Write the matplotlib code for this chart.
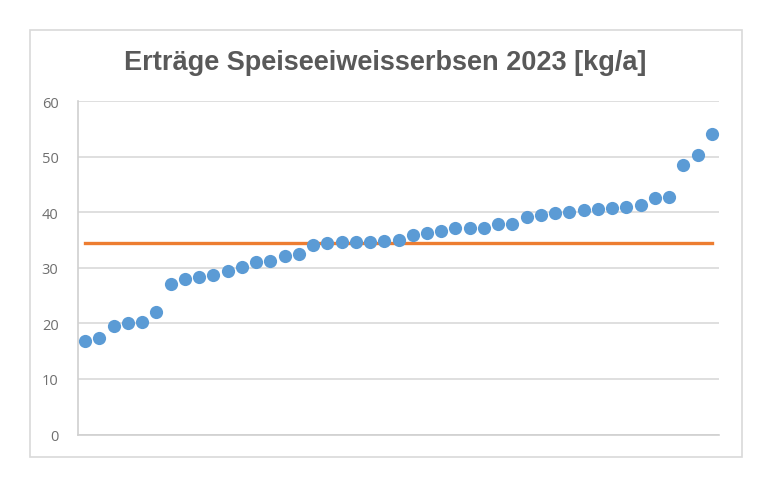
import matplotlib.pyplot as plt
from matplotlib.patches import Rectangle

# Werte (sortiert)
ertraege = [16.9, 17.4, 19.6, 20.1, 20.3, 22.0, 27.0, 27.9, 28.3, 28.7,
            29.5, 30.2, 31.0, 31.3, 32.1, 32.5, 34.1, 34.4, 34.6, 34.7,
            34.7, 34.9, 35.0, 35.9, 36.2, 36.6, 37.1, 37.2, 37.2, 37.8,
            37.8, 39.2, 39.5, 39.8, 40.0, 40.3, 40.5, 40.7, 40.9, 41.2,
            42.6, 42.7, 48.5, 50.3, 54.1]
mittel = [34.5] * len(ertraege)
betriebe = list(range(1, len(ertraege) + 1))
y_ticks = [0, 10, 20, 30, 40, 50, 60]
titel = 'Erträge Speiseeiweisserbsen 2023 [kg/a]'

W, H = 769, 489
fig = plt.figure(figsize=(W / 100, H / 100), dpi=100)

# Rahmen des Diagramms
fig.patches.append(Rectangle((30 / W, 1 - 458 / H), 712 / W, 427 / H,
                             transform=fig.transFigure, fill=False,
                             edgecolor='#d9d9d9', linewidth=1.2))

ax = fig.add_axes([78 / W, 1 - 435.5 / H, 641 / W, 333.5 / H])
ax.plot(betriebe, mittel, color='#ed7d31', linewidth=2.4, zorder=2)
ax.plot(betriebe, ertraege, linestyle='none', marker='o', markersize=9.5,
        color='#5b9bd5', markeredgewidth=0, zorder=3)

ax.set_xlim(0.5, len(ertraege) + 0.5)
ax.set_ylim(0, 60)
ax.set_yticks(y_ticks)
ax.set_yticklabels([str(t) for t in y_ticks], fontsize=10.5, color='#6f6f6f',
                   family='Open Sans')
ax.set_xticks([])
ax.tick_params(axis='y', length=0, pad=14)
ax.grid(axis='y', color='#d9d9d9', linewidth=1.2)
ax.set_axisbelow(True)
for s in ['top', 'right']:
    ax.spines[s].set_visible(False)
for s in ['left', 'bottom']:
    ax.spines[s].set_color('#d0d0d0')
    ax.spines[s].set_linewidth(1.2)

fig.text(385 / W, 1 - 63 / H, titel, ha='center', va='center',
         fontsize=19.5, fontweight='bold', color='#595959',
         family='Liberation Sans')

fig.savefig('out.png', dpi=100, facecolor='white')
